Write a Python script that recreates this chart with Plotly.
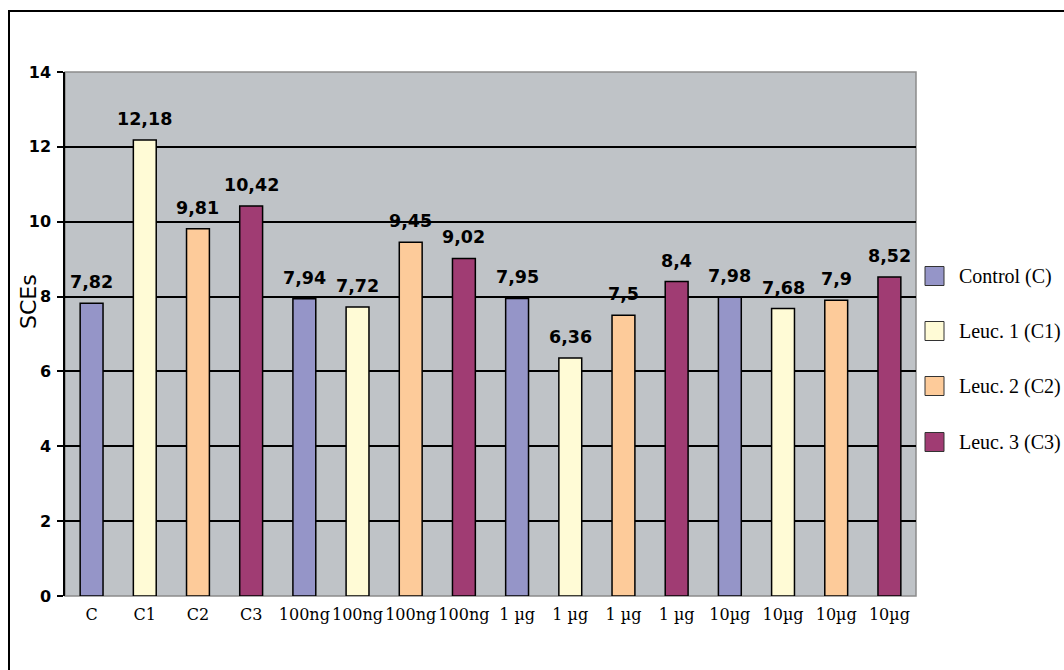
import plotly.graph_objects as go

# Sister-chromatid exchange counts per treatment group
tick_labels = ["C", "C1", "C2", "C3",
               "100ng", "100ng", "100ng", "100ng",
               "1 µg", "1 µg", "1 µg", "1 µg",
               "10µg", "10µg", "10µg", "10µg"]

series_names = ["Control (C)", "Leuc. 1 (C1)", "Leuc. 2 (C2)", "Leuc. 3 (C3)"]
control = [7.82, 7.94, 7.95, 7.98]
leuc1 = [12.18, 7.72, 6.36, 7.68]
leuc2 = [9.81, 9.45, 7.5, 7.9]
leuc3 = [10.42, 9.02, 8.4, 8.52]
series_values = [control, leuc1, leuc2, leuc3]
series_colors = ["#9595C8", "#FFFBD6", "#FDCB9A", "#A03C73"]

W, H = 1064, 670
L, R, T, B = 65, 916, 72, 596   # plot area in pixels


def px_x(x):
    return (x - L) / (R - L)


def px_y(y):
    return (B - y) / (B - T)


fig = go.Figure()
annotations = []
shapes = []

n_groups = len(series_values[0])
n_series = len(series_values)
for s, (name, vals, col) in enumerate(zip(series_names, series_values, series_colors)):
    xs = [g * n_series + s for g in range(n_groups)]
    fig.add_trace(go.Bar(
        x=xs, y=vals, name=name, width=0.43,
        marker=dict(color=col, line=dict(color="black", width=1.5)),
        showlegend=False,
    ))
    for x, v in zip(xs, vals):
        annotations.append(dict(
            x=x, y=v, xref="x", yref="y", text=f"{v:g}".replace(".", ","),
            showarrow=False, yanchor="bottom", yshift=9,
            font=dict(family="DejaVu Sans", size=17.5, color="black", weight="bold"),
        ))

# Legend drawn as swatches with serif labels
leg_y = [276, 331, 386, 442]
for name, col, yc in zip(series_names, series_colors, leg_y):
    shapes.append(dict(
        type="rect", xref="paper", yref="paper",
        x0=px_x(925), x1=px_x(944), y0=px_y(yc + 9.5), y1=px_y(yc - 9.5),
        fillcolor=col, line=dict(color="#333333", width=1),
    ))
    annotations.append(dict(
        x=px_x(957), y=px_y(yc), xref="paper", yref="paper", text=name,
        showarrow=False, xanchor="left", yanchor="middle",
        font=dict(family="Liberation Serif", size=20, color="black"),
    ))

# Y axis title
annotations.append(dict(
    x=px_x(28), y=px_y(302), xref="paper", yref="paper", text="SCEs",
    showarrow=False, textangle=-90, xanchor="center", yanchor="middle",
    font=dict(family="DejaVu Sans", size=22, color="black"),
))

# Gray frame on top/right of plot area
shapes.append(dict(type="rect", xref="paper", yref="paper", x0=0, x1=1, y0=0, y1=1,
                   line=dict(color="#8C8C8C", width=1.5), layer="below"))
# Outer chart border
shapes.append(dict(type="rect", xref="paper", yref="paper",
                   x0=px_x(9), x1=px_x(1075), y0=px_y(680), y1=px_y(11),
                   line=dict(color="black", width=2)))

fig.update_layout(
    width=W, height=H,
    margin=dict(l=L, r=W - R, t=T, b=H - B, pad=0),
    paper_bgcolor="white",
    plot_bgcolor="#BFC3C7",
    barmode="overlay",
    showlegend=False,
    annotations=annotations,
    shapes=shapes,
    xaxis=dict(
        range=[-0.5, 15.5], tickmode="array",
        tickvals=list(range(len(tick_labels))), ticktext=tick_labels,
        showgrid=False, zeroline=False, showline=False, ticks="",
        ticklabelstandoff=7,
        tickfont=dict(family="DejaVu Serif", size=16, color="black"),
        fixedrange=True,
    ),
    yaxis=dict(
        range=[0, 14], dtick=2, tick0=0,
        showgrid=True, gridcolor="black", gridwidth=1.5,
        zeroline=False, showline=True, linecolor="black", linewidth=1.5,
        ticks="outside", ticklen=6, tickcolor="black", tickwidth=1.5,
        ticklabelstandoff=3,
        tickfont=dict(family="DejaVu Sans", size=16, color="black", weight="bold"),
        fixedrange=True,
    ),
)

fig.write_html("out.html")
